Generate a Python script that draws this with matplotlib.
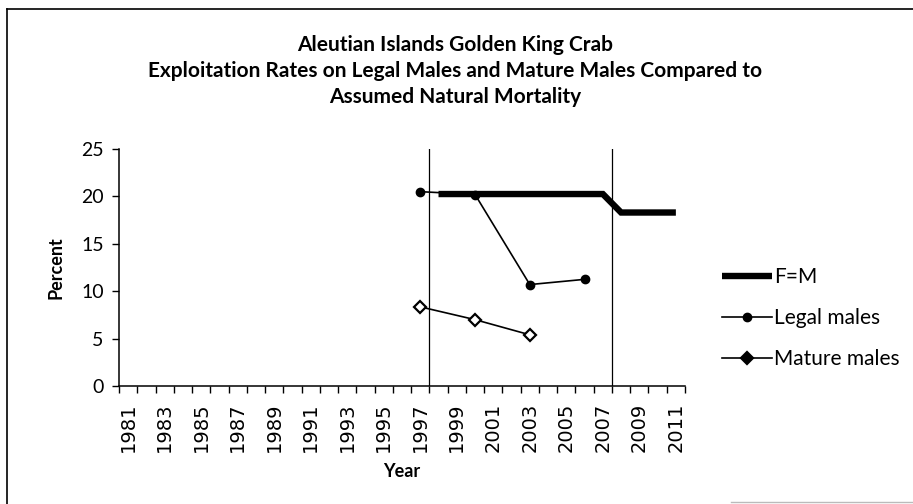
import matplotlib
matplotlib.use("Agg")
import matplotlib.pyplot as plt
from matplotlib.lines import Line2D

# ---- data ----
years_all = list(range(1981, 2012))
tick_years = list(range(1981, 2012, 2))

fm_years = [1998, 1999, 2000, 2001, 2002, 2003, 2004, 2005, 2006, 2007, 2008, 2009, 2010, 2011]
fm_values = [20.25, 20.25, 20.25, 20.25, 20.25, 20.25, 20.25, 20.25, 20.25, 20.25, 18.3, 18.3, 18.3, 18.3]

legal_years = [1997, 2000, 2003, 2006]
legal_values = [20.5, 20.2, 10.7, 11.25]

mature_years = [1997, 2000, 2003]
mature_values = [8.35, 7.0, 5.4]

divider_years = [1997.5, 2007.5]

title_lines = ["Aleutian Islands Golden King Crab",
               "Exploitation Rates on Legal Males and Mature Males Compared to",
               "Assumed Natural Mortality"]

W, H = 913, 504
fig = plt.figure(figsize=(W / 100, H / 100), dpi=100)
FONT = "Lato"

ax = fig.add_axes([119 / W, 1 - 386 / H, (685 - 119) / W, (386 - 149) / H])

ax.plot(fm_years, fm_values, color="black", lw=4.6, solid_capstyle="butt",
        solid_joinstyle="miter", label="F=M", zorder=3)
ax.plot(legal_years, legal_values, color="black", lw=1.2, marker="o", ms=6,
        label="Legal males", zorder=4)
ax.plot(mature_years, mature_values, color="black", lw=1.2, marker="D", ms=6,
        mfc="white", mew=1.6, label="Mature males", zorder=4)

for x in divider_years:
    ax.plot([x, x], [0, 25], color="black", lw=0.9, zorder=2)

ax.set_xlim(years_all[0] - 0.5, years_all[-1] + 0.5)
ax.set_ylim(0, 25)

# boundary ticks (major, unlabeled) and labels at odd years (minor, no tick mark)
ax.set_xticks([y - 0.5 for y in years_all] + [years_all[-1] + 0.5])
ax.set_xticklabels([])
ax.set_xticks(tick_years, minor=True)
ax.set_xticklabels([str(y) for y in tick_years], minor=True, rotation=90,
                   fontsize=14, family="DejaVu Sans")
ax.tick_params(axis="x", which="major", length=5, width=1, direction="out")
ax.tick_params(axis="x", which="minor", length=0, pad=12)

ax.set_yticks([0, 5, 10, 15, 20, 25])
ax.set_yticklabels(["0", "5", "10", "15", "20", "25"], fontsize=14, family=FONT)
ax.tick_params(axis="y", length=5, width=1, direction="out", pad=6)

for s in ["top", "right"]:
    ax.spines[s].set_visible(False)
for s in ["left", "bottom"]:
    ax.spines[s].set_linewidth(1.1)

ax.set_ylabel("Percent", fontsize=13, fontweight="bold", family=FONT, labelpad=12)
ax.set_xlabel("Year", fontsize=13, fontweight="bold", family=FONT, labelpad=8)

leg = ax.legend(loc="upper left", bbox_to_anchor=(714 / W, 1 - 259 / H),
                bbox_transform=fig.transFigure, frameon=False,
                prop={"family": FONT, "size": 15}, handlelength=2.4,
                handletextpad=0.1, labelspacing=1.0, borderaxespad=0)
leg.get_lines()[2].set_markerfacecolor("black")

for i, t in enumerate(title_lines):
    fig.text(455 / W, 1 - (45 + 26 * i) / H, t, ha="center", va="center",
             fontsize=15, fontweight="bold", family=FONT)

# outer chart frame (scanned edge)
fig.add_artist(Line2D([7 / W, 1], [1 - 9 / H, 1 - 9 / H], color="black", lw=1.2,
                      transform=fig.transFigure))
fig.add_artist(Line2D([7 / W, 7 / W], [0, 1 - 9 / H], color="black", lw=1.2,
                      transform=fig.transFigure))
fig.add_artist(Line2D([731 / W, 1], [1 - 502 / H, 1 - 502 / H], color="#bbbbbb", lw=1.0,
                      transform=fig.transFigure))

fig.savefig("out.png", dpi=100)
